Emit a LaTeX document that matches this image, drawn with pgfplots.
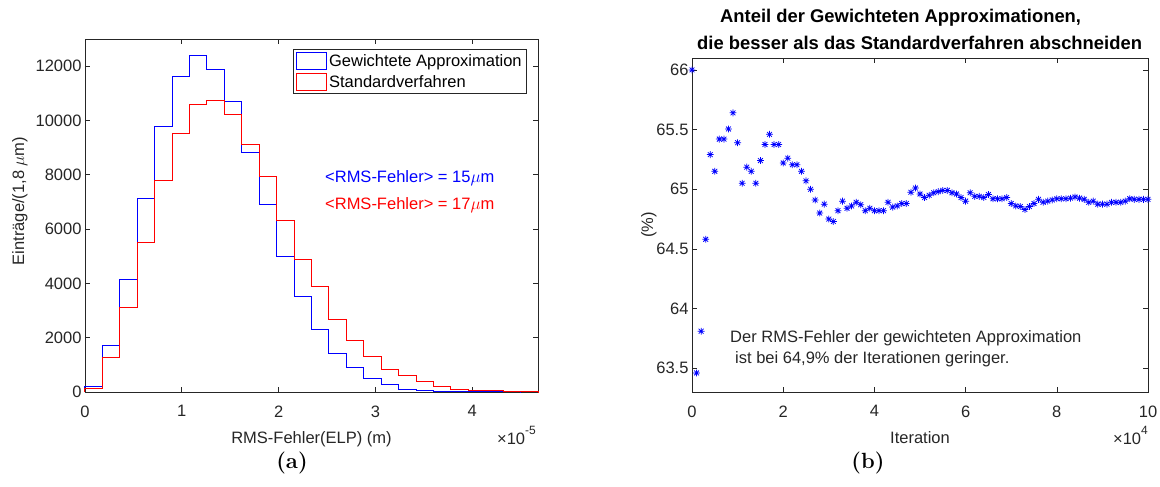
\documentclass[border=0pt]{standalone}
\usepackage{fontspec}
\usepackage{pgfplots}
\pgfplotsset{compat=1.18}
\newfontfamily\arial{Liberation Sans}
\newcommand\af{\arial\fontsize{16.5}{19}\selectfont}
\newcommand\tf{\arial\bfseries\fontsize{18.4}{21}\selectfont}
\definecolor{axgray}{gray}{0.15}

\pgfdeclareplotmark{mstar}{%
  \pgfpathmoveto{\pgfqpoint{-\pgfplotmarksize}{0pt}}\pgfpathlineto{\pgfqpoint{\pgfplotmarksize}{0pt}}%
  \pgfpathmoveto{\pgfqpoint{0pt}{-\pgfplotmarksize}}\pgfpathlineto{\pgfqpoint{0pt}{\pgfplotmarksize}}%
  \pgfpathmoveto{\pgfqpoint{-0.707\pgfplotmarksize}{-0.707\pgfplotmarksize}}\pgfpathlineto{\pgfqpoint{0.707\pgfplotmarksize}{0.707\pgfplotmarksize}}%
  \pgfpathmoveto{\pgfqpoint{-0.707\pgfplotmarksize}{0.707\pgfplotmarksize}}\pgfpathlineto{\pgfqpoint{0.707\pgfplotmarksize}{-0.707\pgfplotmarksize}}%
  \pgfusepathqstroke}

\pgfplotsset{mlstyle/.style={
  scale only axis,
  axis line style={axgray, line width=0.6pt},
  tick style={axgray, line width=0.6pt},
  major tick length=5pt,
  tick align=inside,
  xtick pos=both, ytick pos=both,
  ticklabel style={font=\af, text=axgray},
  xticklabel style={yshift=-10pt},
  /pgf/number format/assume math mode=true,
  /pgf/number format/1000 sep={},
  scaled ticks=false,
  clip=false,
}}

\pgfplotstableread{
x y
0.0 66.00
0.1 63.46
0.2 63.81
0.3 64.58
0.4 65.29
0.5 65.15
0.6 65.42
0.7 65.42
0.8 65.505
0.9 65.64
1.0 65.39
1.1 65.05
1.2 65.185
1.3 65.15
1.4 65.05
1.5 65.24
1.6 65.375
1.7 65.46
1.8 65.375
1.9 65.375
2.0 65.22
2.1 65.26
2.2 65.205
2.3 65.205
2.4 65.15
2.5 65.07
2.6 65.00
2.7 64.91
2.8 64.80
2.9 64.875
3.0 64.75
3.1 64.73
3.2 64.82
3.3 64.90
3.4 64.84
3.5 64.86
3.6 64.89
3.7 64.87
3.8 64.82
3.9 64.84
4.0 64.82
4.1 64.82
4.2 64.82
4.3 64.89
4.4 64.85
4.5 64.86
4.6 64.88
4.7 64.88
4.8 64.975
4.9 65.01
5.0 64.96
5.1 64.93
5.2 64.95
5.3 64.97
5.4 64.98
5.5 64.99
5.6 64.99
5.7 64.97
5.8 64.96
5.9 64.93
6.0 64.90
6.1 64.97
6.2 64.94
6.3 64.94
6.4 64.93
6.5 64.955
6.6 64.92
6.7 64.92
6.8 64.92
6.9 64.93
7.0 64.88
7.1 64.86
7.2 64.855
7.3 64.83
7.4 64.855
7.5 64.88
7.6 64.915
7.7 64.89
7.8 64.90
7.9 64.91
8.0 64.92
8.1 64.92
8.2 64.92
8.3 64.925
8.4 64.935
8.5 64.925
8.6 64.915
8.7 64.89
8.8 64.90
8.9 64.875
9.0 64.875
9.1 64.875
9.2 64.89
9.3 64.89
9.4 64.89
9.5 64.90
9.6 64.92
9.7 64.915
9.8 64.915
9.9 64.915
10.0 64.915
}\iterdata

\begin{document}
\begin{tikzpicture}
\path[use as bounding box] (0pt,0pt) rectangle (1160pt,-487pt);

% ---------------- (a) histogram ----------------
\begin{axis}[mlstyle,
  at={(85pt,-392pt)}, anchor=south west,
  width=453pt, height=353pt,
  xmin=0, xmax=4.68, ymin=0, ymax=13000,
  xtick={0,1,2,3,4},
  ytick={0,2000,4000,6000,8000,10000,12000},
  legend style={at={(0.9757,0.9708)}, anchor=north east, draw=axgray,
    line width=0.6pt, font=\af, text=black, inner xsep=3pt, inner ysep=2.5pt,
    row sep=3.5pt, cells={anchor=west}},
  legend image code/.code={\draw[#1] (0pt,-8.3pt) rectangle (30pt,8.3pt);},
]
\addplot[blue, line width=1pt, const plot] coordinates {
(0,0) (0,185) (0.18,1698) (0.36,4160) (0.54,7138) (0.72,9772) (0.90,11631)
(1.08,12406) (1.26,11889) (1.44,10683) (1.62,8812) (1.80,6892) (1.98,4972)
(2.16,3520) (2.34,2289) (2.52,1428) (2.70,898) (2.88,492) (3.06,258)
(3.24,98) (3.42,37) (3.60,12) (3.78,6) (3.96,3) (4.14,2) (4.32,1) (4.50,0)};
\addlegendentry{Gewichtete Approximation}
\addplot[red, line width=1pt, const plot] coordinates {
(0,0) (0,123) (0.18,1255) (0.36,3114) (0.54,5514) (0.72,7803) (0.90,9538)
(1.08,10585) (1.26,10745) (1.44,10215) (1.62,9108) (1.80,7938) (1.98,6326)
(2.16,4874) (2.34,3889) (2.52,2683) (2.70,1908) (2.88,1292) (3.06,837)
(3.24,591) (3.42,369) (3.60,185) (3.78,98) (3.96,62) (4.14,37) (4.32,15)
(4.50,5) (4.68,0)};
\addlegendentry{Standardverfahren}
\end{axis}

% ---------------- (b) scatter ----------------
\begin{axis}[mlstyle,
  at={(692pt,-392pt)}, anchor=south west,
  width=456pt, height=334pt,
  xmin=0, xmax=10, ymin=63.3, ymax=66.1,
  xtick={0,2,4,6,8,10},
  ytick={63.5,64,64.5,65,65.5,66},
]
\addplot[only marks, mark=mstar, mark size=3.4pt, blue, line width=0.75pt] table[x=x,y=y] {\iterdata};
\end{axis}

% ---------------- texts ----------------
\node[font=\af, text=axgray, anchor=base] at (311.5pt,-443pt) {RMS-Fehler(ELP) (m)};
\node[font=\af, text=axgray, anchor=base east, inner sep=0pt] at (536pt,-444pt) {×10\raisebox{0.55em}{\fontsize{12}{12}\selectfont -5}};
\node[font=\af, text=axgray, anchor=base, rotate=90] at (24pt,-201pt) {Einträge/(1,8 $\mu$m)};
\node[font=\af, text=blue, anchor=base west, inner sep=0pt] at (325pt,-182.6pt) {<RMS-Fehler> = 15$\mu$m};
\node[font=\af, text=red, anchor=base west, inner sep=0pt] at (325pt,-209pt) {<RMS-Fehler> = 17$\mu$m};

\node[font=\af, text=axgray, anchor=base] at (920pt,-443pt) {Iteration};
\node[font=\af, text=axgray, anchor=base east, inner sep=0pt] at (1148pt,-444pt) {×10\raisebox{0.55em}{\fontsize{12}{12}\selectfont 4}};
\node[font=\af, text=axgray, anchor=base, rotate=90] at (653pt,-225pt) {(\%)};
\node[font=\af, text=axgray, anchor=base west, inner sep=0pt] at (730pt,-342pt) {Der RMS-Fehler der gewichteten Approximation};
\node[font=\af, text=axgray, anchor=base west, inner sep=0pt] at (735pt,-363pt) {ist bei 64,9\% der Iterationen geringer.};

\node[font=\tf, anchor=base west, inner sep=0pt] at (720pt,-23pt) {Anteil der Gewichteten Approximationen,};
\node[font=\tf, anchor=base west, inner sep=0pt] at (697pt,-50pt) {die besser als das Standardverfahren abschneiden};

\node[font=\bfseries\fontsize{22}{24}\selectfont] at (292pt,-463pt) {(a)};
\node[font=\bfseries\fontsize{22}{24}\selectfont] at (868pt,-463pt) {(b)};
\end{tikzpicture}
\end{document}
